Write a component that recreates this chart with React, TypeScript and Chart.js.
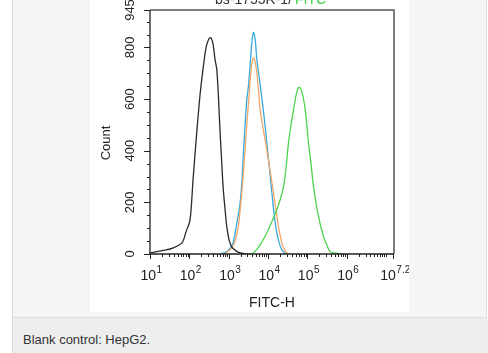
import React, { useEffect, useRef } from "react";
import { Chart, registerables } from "chart.js";

Chart.register(...registerables);

type Pt = { x: number; y: number };

// FITC-H value, count
const blackCurve: Pt[] = [
  { x: 10, y: 4 }, { x: 24, y: 15 }, { x: 38, y: 23 }, { x: 65, y: 43 }, { x: 82, y: 85 },
  { x: 104, y: 132 }, { x: 124, y: 287 }, { x: 154, y: 470 }, { x: 187, y: 617 }, { x: 222, y: 715 },
  { x: 266, y: 800 }, { x: 308, y: 831 }, { x: 351, y: 838 }, { x: 400, y: 812 }, { x: 450, y: 753 },
  { x: 498, y: 715 }, { x: 553, y: 598 }, { x: 604, y: 470 }, { x: 660, y: 365 }, { x: 720, y: 260 },
  { x: 810, y: 171 }, { x: 895, y: 105 }, { x: 1024, y: 54 }, { x: 1200, y: 27 }, { x: 1543, y: 12 },
  { x: 1950, y: 4 }, { x: 2760, y: 0 },
];

const blueCurve: Pt[] = [
  { x: 604, y: 0 }, { x: 895, y: 9 }, { x: 1086, y: 23 }, { x: 1295, y: 43 }, { x: 1585, y: 113 },
  { x: 1950, y: 198 }, { x: 2190, y: 295 }, { x: 2365, y: 392 }, { x: 2612, y: 501 }, { x: 2885, y: 598 },
  { x: 3170, y: 650 }, { x: 3510, y: 734 }, { x: 3830, y: 812 }, { x: 4256, y: 858 }, { x: 4700, y: 831 },
  { x: 5190, y: 753 }, { x: 6300, y: 656 }, { x: 7300, y: 579 }, { x: 8430, y: 493 }, { x: 10000, y: 384 },
  { x: 12500, y: 237 }, { x: 14300, y: 151 }, { x: 16750, y: 82 }, { x: 19150, y: 43 }, { x: 22440, y: 16 },
  { x: 27230, y: 4 }, { x: 32450, y: 0 },
];

const orangeCurve: Pt[] = [
  { x: 760, y: 0 }, { x: 1086, y: 16 }, { x: 1372, y: 39 }, { x: 1733, y: 101 }, { x: 2070, y: 210 },
  { x: 2395, y: 326 }, { x: 2885, y: 501 }, { x: 3310, y: 617 }, { x: 3720, y: 715 }, { x: 4256, y: 760 },
  { x: 4830, y: 734 }, { x: 5600, y: 650 }, { x: 6300, y: 559 }, { x: 7950, y: 462 }, { x: 10230, y: 365 },
  { x: 13700, y: 237 }, { x: 18400, y: 106 }, { x: 21550, y: 54 }, { x: 24660, y: 23 }, { x: 30060, y: 5 },
  { x: 36500, y: 0 },
];

const greenCurve: Pt[] = [
  { x: 2612, y: 0 }, { x: 4170, y: 4 }, { x: 6300, y: 35 }, { x: 9330, y: 82 }, { x: 12700, y: 128 },
  { x: 16750, y: 171 }, { x: 20300, y: 210 }, { x: 24660, y: 261 }, { x: 28850, y: 338 }, { x: 33000, y: 431 },
  { x: 38700, y: 505 }, { x: 44300, y: 559 }, { x: 51900, y: 617 }, { x: 59400, y: 645 }, { x: 67600, y: 641 },
  { x: 78200, y: 606 }, { x: 87900, y: 559 }, { x: 106700, y: 431 }, { x: 125000, y: 342 }, { x: 142900, y: 261 },
  { x: 191600, y: 145 }, { x: 257000, y: 67 }, { x: 319000, y: 31 }, { x: 380000, y: 9 }, { x: 563000, y: 3 },
  { x: 767000, y: 0 },
];

const xMin = 10;
const xMax = 15848932; // 10^7.2
const yMin = 0;
const yMax = 945;

const xTickValues = [10, 100, 1000, 10000, 100000, 1000000, 15848932];
const xTickExponents = ["1", "2", "3", "4", "5", "6", "7.2"];
const yTickValues = [0, 200, 400, 600, 800, 945];
const yTickLabels = ["0", "200", "400", "600", "800", "945"];
const xTitle = "FITC-H";
const yTitle = "Count";
const caption = "Blank control: HepG2.";

const FONT = '"Liberation Sans", Arial, sans-serif';

const axesPlugin = {
  id: "customAxes",
  afterDraw(chart: any) {
    const ctx: CanvasRenderingContext2D = chart.ctx;
    const xs = chart.scales.x;
    const ys = chart.scales.y;
    const ca = chart.chartArea;
    ctx.save();

    // frame top + right
    ctx.strokeStyle = "#555";
    ctx.lineWidth = 1.5;
    ctx.beginPath();
    ctx.moveTo(ca.left, ca.top);
    ctx.lineTo(ca.right, ca.top);
    ctx.lineTo(ca.right, ca.bottom);
    ctx.stroke();

    // axes
    ctx.strokeStyle = "#222";
    ctx.lineWidth = 1.3;
    ctx.beginPath();
    ctx.moveTo(ca.left, ca.top);
    ctx.lineTo(ca.left, ca.bottom + 1);
    ctx.moveTo(ca.left - 1, ca.bottom);
    ctx.lineTo(ca.right, ca.bottom);
    ctx.stroke();

    // y ticks
    ctx.lineWidth = 1;
    ctx.beginPath();
    for (let v = 0; v <= yMax; v += 50) {
      const py = Math.round(ys.getPixelForValue(v)) + 0.5;
      const major = v % 200 === 0;
      ctx.moveTo(ca.left, py);
      ctx.lineTo(ca.left - (major ? 6 : 3), py);
    }
    {
      const py = Math.round(ys.getPixelForValue(yMax)) + 0.5;
      ctx.moveTo(ca.left, py);
      ctx.lineTo(ca.left - 6, py);
    }
    ctx.stroke();

    // y labels
    ctx.fillStyle = "#222";
    ctx.font = `13px ${FONT}`;
    ctx.textAlign = "center";
    ctx.textBaseline = "middle";
    yTickValues.forEach((v, i) => {
      const py = ys.getPixelForValue(v);
      ctx.save();
      ctx.translate(ca.left - 20, py);
      ctx.rotate(-Math.PI / 2);
      ctx.fillText(yTickLabels[i], 0, 0);
      ctx.restore();
    });

    // y title
    ctx.save();
    ctx.font = `13px ${FONT}`;
    ctx.translate(ca.left - 44, ys.getPixelForValue(430));
    ctx.rotate(-Math.PI / 2);
    ctx.fillText(yTitle, 0, 0);
    ctx.restore();

    // x ticks
    ctx.beginPath();
    for (let d = 1; d <= 7; d++) {
      for (let m = 1; m <= 9; m++) {
        const v = m * Math.pow(10, d);
        if (v > xMax) break;
        const px = Math.round(xs.getPixelForValue(v)) + 0.5;
        const major = m === 1 && d <= 6;
        ctx.moveTo(px, ca.bottom);
        ctx.lineTo(px, ca.bottom + (major ? 5 : 3));
      }
    }
    {
      const px = Math.round(xs.getPixelForValue(xMax)) - 0.5;
      ctx.moveTo(px, ca.bottom);
      ctx.lineTo(px, ca.bottom + 5);
    }
    ctx.stroke();

    // x labels with superscripts
    xTickValues.forEach((v, i) => {
      const px = xs.getPixelForValue(v);
      ctx.font = `14px ${FONT}`;
      const wb = ctx.measureText("10").width;
      ctx.font = `10px ${FONT}`;
      const we = ctx.measureText(xTickExponents[i]).width;
      const start = px - (wb + we) / 2 + 1;
      ctx.textAlign = "left";
      ctx.textBaseline = "alphabetic";
      ctx.font = `14px ${FONT}`;
      ctx.fillText("10", start, ca.bottom + 26);
      ctx.font = `10px ${FONT}`;
      ctx.fillText(xTickExponents[i], start + wb + 0.5, ca.bottom + 19);
    });

    // x title
    ctx.font = `14px ${FONT}`;
    ctx.textAlign = "center";
    ctx.textBaseline = "alphabetic";
    ctx.fillText(xTitle, (ca.left + ca.right) / 2, ca.bottom + 53);

    // clipped header
    ctx.font = `14px ${FONT}`;
    ctx.textAlign = "left";
    ctx.fillStyle = "#333";
    const t1 = "bs-1755R-1/";
    const t2 = "FITC";
    const w1 = ctx.measureText(t1).width;
    ctx.fillText(t1, 125, 4);
    ctx.fillStyle = "#3fcf3f";
    ctx.fillText(t2, 125 + w1 + 3, 4);

    ctx.restore();
  },
};

export default function App() {
  const ref = useRef<HTMLCanvasElement | null>(null);

  useEffect(() => {
    if (!ref.current) return;
    const mk = (data: Pt[], color: string) => ({
      data,
      borderColor: color,
      borderWidth: 1.3,
      pointRadius: 0,
      tension: 0.3,
      fill: false,
    });
    const chart = new Chart(ref.current, {
      type: "line",
      data: {
        datasets: [
          mk(blackCurve, "#2a2a2a"),
          mk(greenCurve, "#4fd44f"),
          mk(orangeCurve, "#f2a86a"),
          mk(blueCurve, "#38a9d8"),
        ],
      },
      options: {
        animation: false,
        responsive: false,
        devicePixelRatio: 1,
        layout: { padding: { left: 60, right: 15, top: 10, bottom: 58 } },
        plugins: { legend: { display: false }, tooltip: { enabled: false }, title: { display: false } },
        scales: {
          x: { type: "logarithmic", min: xMin, max: xMax, display: false },
          y: { type: "linear", min: yMin, max: yMax, display: false },
        },
      },
      plugins: [axesPlugin],
    });
    return () => chart.destroy();
  }, []);

  return (
    <div style={{ position: "fixed", left: 0, top: 0, width: 488, height: 353, background: "#fff", overflow: "hidden" }}>
      <div
        style={{
          position: "absolute",
          left: 12,
          top: 0,
          width: 473,
          height: 317,
          background: "#f4f5f5",
          borderLeft: "1px solid #dcdcdc",
          borderRight: "1px solid #dcdcdc",
          borderBottom: "1px solid #dcdcdc",
        }}
      />
      <div
        style={{
          position: "absolute",
          left: 12,
          top: 318,
          width: 476,
          height: 35,
          background: "#eeeeee",
          borderLeft: "1px solid #dcdcdc",
        }}
      />
      <div
        style={{
          position: "absolute",
          left: 23,
          top: 332,
          font: `13px ${FONT}`,
          color: "#333",
          whiteSpace: "nowrap",
        }}
      >
        {caption}
      </div>
      <div style={{ position: "absolute", left: 90, top: 0, width: 319, height: 312, background: "#fff" }}>
        <canvas ref={ref} width={319} height={312} style={{ display: "block", width: 319, height: 312 }} />
      </div>
    </div>
  );
}
